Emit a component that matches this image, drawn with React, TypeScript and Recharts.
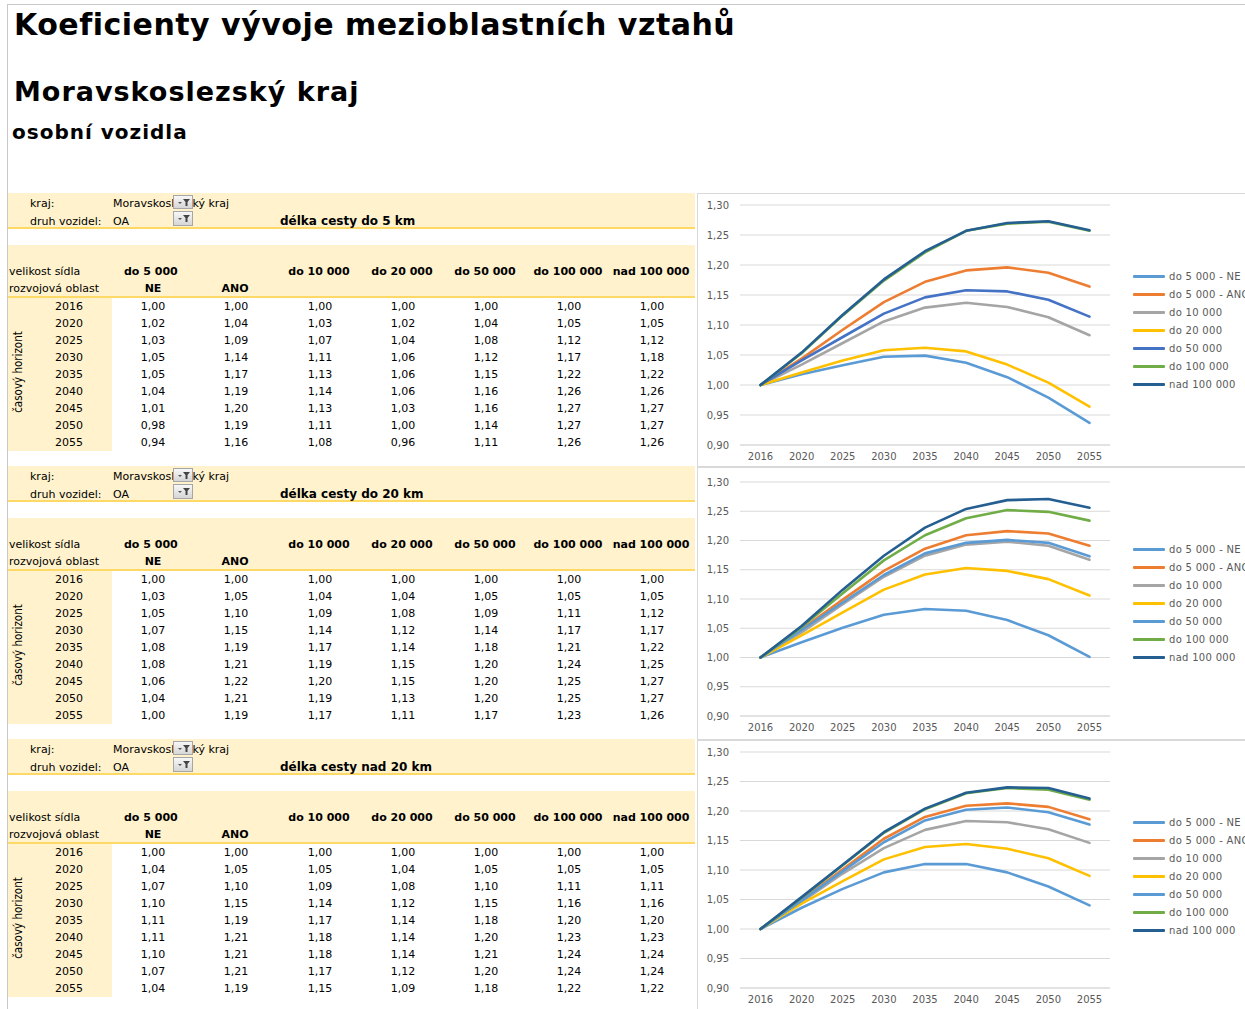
import { LineChart, Line, XAxis, YAxis, CartesianGrid, Legend } from 'recharts'

const years = ['2016', '2020', '2025', '2030', '2035', '2040', '2045', '2050', '2055']
const seriesNames = ['do 5 000 - NE', 'do 5 000 - ANO', 'do 10 000', 'do 20 000', 'do 50 000', 'do 100 000', 'nad 100 000']
const colHeaders = ['do 10 000', 'do 20 000', 'do 50 000', 'do 100 000', 'nad 100 000']
const yTicks = [0.9, 0.95, 1.0, 1.05, 1.1, 1.15, 1.2, 1.25, 1.3]

// délka cesty do 5 km
const km5Ne = [1, 1.018, 1.033, 1.047, 1.049, 1.037, 1.013, 0.979, 0.937]
const km5Ano = [1, 1.044, 1.092, 1.138, 1.172, 1.191, 1.196, 1.187, 1.164]
const km5Do10 = [1, 1.034, 1.07, 1.106, 1.129, 1.137, 1.13, 1.113, 1.083]
const km5Do20 = [1, 1.021, 1.041, 1.058, 1.062, 1.056, 1.034, 1.004, 0.964]
const km5Do50 = [1, 1.041, 1.08, 1.119, 1.146, 1.158, 1.156, 1.142, 1.114]
const km5Do100 = [1, 1.053, 1.116, 1.174, 1.221, 1.257, 1.269, 1.272, 1.257]
const km5Nad100 = [1, 1.054, 1.117, 1.176, 1.223, 1.257, 1.27, 1.273, 1.258]

// délka cesty do 20 km
const km20Ne = [1, 1.026, 1.051, 1.073, 1.083, 1.08, 1.064, 1.038, 1.001]
const km20Ano = [1, 1.048, 1.099, 1.148, 1.186, 1.209, 1.216, 1.212, 1.191]
const km20Do10 = [1, 1.043, 1.091, 1.138, 1.174, 1.193, 1.198, 1.191, 1.167]
const km20Do20 = [1, 1.038, 1.077, 1.116, 1.142, 1.153, 1.148, 1.134, 1.106]
const km20Do50 = [1, 1.047, 1.094, 1.141, 1.178, 1.196, 1.201, 1.196, 1.173]
const km20Do100 = [1, 1.052, 1.11, 1.166, 1.209, 1.238, 1.252, 1.249, 1.234]
const km20Nad100 = [1, 1.054, 1.116, 1.174, 1.222, 1.254, 1.269, 1.271, 1.256]

// délka cesty nad 20 km
const nad20Ne = [1, 1.036, 1.068, 1.096, 1.11, 1.11, 1.096, 1.072, 1.04]
const nad20Ano = [1, 1.049, 1.101, 1.153, 1.19, 1.209, 1.213, 1.207, 1.186]
const nad20Do10 = [1, 1.046, 1.094, 1.137, 1.168, 1.183, 1.181, 1.169, 1.146]
const nad20Do20 = [1, 1.043, 1.081, 1.118, 1.139, 1.144, 1.136, 1.12, 1.09]
const nad20Do50 = [1, 1.048, 1.098, 1.147, 1.184, 1.202, 1.206, 1.198, 1.177]
const nad20Do100 = [1, 1.053, 1.108, 1.163, 1.203, 1.23, 1.239, 1.236, 1.219]
const nad20Nad100 = [1, 1.054, 1.109, 1.164, 1.204, 1.231, 1.24, 1.239, 1.221]

const colorsA = ['#5B9BD5', '#ED7D31', '#A5A5A5', '#FFC000', '#4472C4', '#70AD47', '#255E91']
const colorsB = ['#5B9BD5', '#ED7D31', '#A5A5A5', '#FFC000', '#5B9BD5', '#70AD47', '#255E91']

const SANS = '"DejaVu Sans", Verdana, sans-serif'
const NARROW = '"Liberation Sans Narrow", "DejaVu Sans Condensed", sans-serif'
const YELLOW = '#FFF2CC'
const GOLD = '#FFD966'

const fmt = (v: number) => v.toFixed(2).replace('.', ',')

const blocks = [
  {
    title: 'délka cesty do 5 km',
    dy: 0,
    series: [km5Ne, km5Ano, km5Do10, km5Do20, km5Do50, km5Do100, km5Nad100],
    colors: colorsA,
    chart: { top: 193, height: 274, plotTop: 11, axisHeight: 21, legendTop: 74 },
  },
  {
    title: 'délka cesty do 20 km',
    dy: 273,
    series: [km20Ne, km20Ano, km20Do10, km20Do20, km20Do50, km20Do100, km20Nad100],
    colors: colorsB,
    chart: { top: 467, height: 273, plotTop: 14, axisHeight: 23, legendTop: 73 },
  },
  {
    title: 'délka cesty nad 20 km',
    dy: 546,
    series: [nad20Ne, nad20Ano, nad20Do10, nad20Do20, nad20Do50, nad20Do100, nad20Nad100],
    colors: colorsB,
    chart: { top: 740, height: 280, plotTop: 11, axisHeight: 31, legendTop: 73 },
  },
]

const colCenters = [153, 236, 320, 403, 486, 569, 652]

function Txt({ x, y, size = 11, bold = false, align = 'left', font = SANS, color = '#000', spacing = 0, children }: any) {
  const w = 800
  const lh = size + 4
  const left = align === 'left' ? x : align === 'center' ? x - w / 2 : x - w
  return (
    <div
      style={{
        position: 'absolute',
        left,
        top: y - lh / 2,
        width: w,
        height: lh,
        lineHeight: `${lh}px`,
        fontSize: size,
        fontWeight: bold ? 700 : 400,
        fontFamily: font,
        letterSpacing: spacing,
        textAlign: align,
        whiteSpace: 'nowrap',
        color,
      }}
    >
      {children}
    </div>
  )
}

function Box({ x, y, w, h, bg }: any) {
  return <div style={{ position: 'absolute', left: x, top: y, width: w, height: h, background: bg }} />
}

function FilterButton({ x, y, h }: any) {
  return (
    <div
      style={{
        position: 'absolute',
        left: x,
        top: y,
        width: 20,
        height: h,
        boxSizing: 'border-box',
        border: '1px solid #A6A6A6',
        background: 'linear-gradient(#F7F7F7, #D6D6D6)',
      }}
    >
      <svg width={18} height={h - 2} style={{ position: 'absolute', left: 0, top: 0 }}>
        <path d="M4 6 L8 6 L6 8 Z" fill="#555" />
        <path d="M9 3 L16 3 L13.5 6 L13.5 10 L11.5 10 L11.5 6 Z" fill="#444" />
      </svg>
    </div>
  )
}

function TableBlock({ title, dy, series }: any) {
  const o = (v: number) => v + dy
  return (
    <>
      <Box x={8} y={o(193)} w={687} h={34} bg={YELLOW} />
      <Box x={8} y={o(227)} w={687} h={2} bg={GOLD} />
      <Txt x={30} y={o(203.5)}>kraj:</Txt>
      <Txt x={113} y={o(203.5)}>Moravskoslezský kraj</Txt>
      <Txt x={30} y={o(221)}>druh vozidel:</Txt>
      <Txt x={113} y={o(221)}>OA</Txt>
      <FilterButton x={173} y={o(195)} h={14} />
      <FilterButton x={173} y={o(211)} h={15} />
      <Txt x={280} y={o(220.5)} size={12} bold>
        {title}
      </Txt>

      <Box x={8} y={o(245)} w={687} h={51} bg={YELLOW} />
      <Box x={8} y={o(296)} w={687} h={2} bg={GOLD} />
      <Txt x={9} y={o(271)}>velikost sídla</Txt>
      <Txt x={124} y={o(271)} bold>
        do 5 000
      </Txt>
      {colHeaders.map((h, i) => (
        <Txt key={h} x={colCenters[i + 2] - 1} y={o(271)} bold align="center">
          {h}
        </Txt>
      ))}
      <Txt x={9} y={o(288)}>rozvojová oblast</Txt>
      <Txt x={colCenters[0]} y={o(288)} bold align="center">
        NE
      </Txt>
      <Txt x={colCenters[1] - 1} y={o(288)} bold align="center">
        ANO
      </Txt>

      <Box x={8} y={o(298)} w={104} h={153} bg={YELLOW} />
      <div
        style={{
          position: 'absolute',
          left: 17.5 - 60,
          top: o(372) - 8,
          width: 120,
          height: 16,
          lineHeight: '16px',
          fontSize: 11.5,
          fontFamily: NARROW,
          textAlign: 'center',
          transform: 'rotate(-90deg)',
          whiteSpace: 'nowrap',
        }}
      >
        časový horizont
      </div>
      {years.map((yr, r) => (
        <Txt key={yr} x={69} y={o(306 + r * 17.08)} align="center">
          {yr}
        </Txt>
      ))}
      {series.map((s: number[], c: number) =>
        s.map((v, r) => (
          <Txt key={`${c}-${r}`} x={colCenters[c]} y={o(306 + r * 17.08)} align="center">
            {fmt(v)}
          </Txt>
        ))
      )}
    </>
  )
}

const tickStyle = { fontSize: 10, fill: '#595959', fontFamily: SANS }

const renderLegend = (props: any) => {
  const items = [...(props.payload || [])].sort(
    (a: any, b: any) => seriesNames.indexOf(a.value) - seriesNames.indexOf(b.value)
  )
  return (
    <div style={{ whiteSpace: 'nowrap' }}>
      {items.map((p: any, i: number) => (
        <div key={i} style={{ display: 'flex', alignItems: 'center', height: 17.9 }}>
          <span style={{ display: 'inline-block', width: 32, height: 3, background: p.color, marginRight: 4, borderRadius: 1 }} />
          <span style={{ fontSize: 10, color: '#595959', fontFamily: SANS, letterSpacing: 0.3 }}>{p.value}</span>
        </div>
      ))}
    </div>
  )
}

function TrendChart({ series, colors, top, height, plotTop, axisHeight, legendTop }: any) {
  const data = years.map((yr, i) => {
    const row: any = { year: yr }
    series.forEach((s: number[], k: number) => {
      row['s' + k] = s[i]
    })
    return row
  })
  return (
    <div
      style={{
        position: 'absolute',
        left: 697,
        top,
        width: 560,
        height,
        boxSizing: 'border-box',
        border: '1px solid #D9D9D9',
        background: '#fff',
      }}
    >
      <LineChart width={558} height={height - 2} data={data} margin={{ top: plotTop, right: 146, bottom: 0, left: 0 }}>
        <CartesianGrid vertical={false} stroke="#D9D9D9" />
        <XAxis
          dataKey="year"
          height={axisHeight}
          interval={0}
          padding={{ left: 20.5, right: 20.5 }}
          tickLine={false}
          axisLine={{ stroke: '#D9D9D9' }}
          tick={tickStyle}
        />
        <YAxis
          width={42}
          domain={[0.9, 1.3]}
          ticks={yTicks}
          tickFormatter={fmt}
          tickLine={false}
          axisLine={false}
          tickMargin={5}
          tick={tickStyle}
        />
        <Legend
          layout="vertical"
          align="center"
          verticalAlign="middle"
          wrapperStyle={{ left: 435, top: legendTop, width: 200 }}
          content={renderLegend}
        />
        {series.map((_s: number[], k: number) => (
          <Line
            key={k}
            type="linear"
            dataKey={'s' + k}
            name={seriesNames[k]}
            stroke={colors[k]}
            strokeWidth={2.6}
            strokeLinejoin="round"
            strokeLinecap="round"
            dot={false}
            activeDot={false}
            isAnimationActive={false}
          />
        ))}
      </LineChart>
    </div>
  )
}

export default function App() {
  return (
    <div
      style={{
        position: 'absolute',
        left: 0,
        top: 0,
        width: 1245,
        height: 1009,
        overflow: 'hidden',
        background: '#fff',
        fontFamily: SANS,
      }}
    >
      <Box x={7} y={4} w={1238} h={1} bg="#C8C8C8" />
      <Box x={7} y={4} w={1} h={1005} bg="#C8C8C8" />

      <Txt x={14} y={25} size={30} bold spacing={0.5}>
        Koeficienty vývoje mezioblastních vztahů
      </Txt>
      <Txt x={14} y={91} size={27} bold spacing={1}>
        Moravskoslezský kraj
      </Txt>
      <Txt x={12} y={132} size={20} bold spacing={1}>
        osobní vozidla
      </Txt>

      {blocks.map((b) => (
        <TableBlock key={b.title} title={b.title} dy={b.dy} series={b.series} />
      ))}
      {blocks.map((b) => (
        <TrendChart key={b.title} series={b.series} colors={b.colors} {...b.chart} />
      ))}
    </div>
  )
}
